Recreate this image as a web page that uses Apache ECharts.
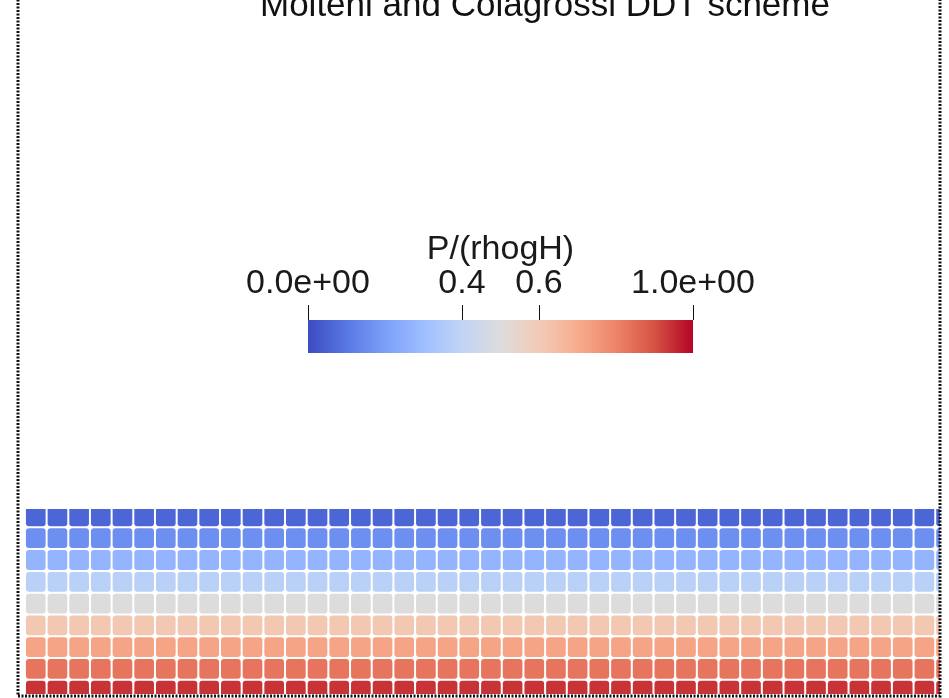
<!DOCTYPE html>
<html>
<head>
<meta charset="utf-8">
<script src="https://cdn.jsdelivr.net/npm/echarts@6/dist/echarts.min.js"></script>
<style>
html,body{margin:0;padding:0;background:#fff;}
#chart{width:949px;height:698px;}
</style>
</head>
<body>
<div id="chart"></div>
<script>
// ---- data ----
const titleText = 'Molteni and Colagrossi DDT scheme';
const colorbarTitle = 'P/(rhogH)';
const colorbarRange = [0, 1];
const tickValues = [0, 0.4, 0.6, 1];
const tickLabels = ['0.0e+00', '0.4', '0.6', '1.0e+00'];
// particle columns (43 across the tank) and rows (9, top = free surface)
const columnIndex = [0,1,2,3,4,5,6,7,8,9,10,11,12,13,14,15,16,17,18,19,20,21,22,23,24,25,26,27,28,29,30,31,32,33,34,35,36,37,38,39,40,41,42];
const rowIndex = [0,1,2,3,4,5,6,7,8];
// non-dimensional pressure read per row (top to bottom)
const rowPressure = [0.06, 0.16, 0.27, 0.38, 0.50, 0.61, 0.72, 0.83, 0.94];
// cool-to-warm colormap
const coolWarm = ['#3b4cc0','#5977e3','#7b9ff9','#9ebeff','#c0d4f5','#dddcdc','#f2cbb7','#f7ac8e','#ee8468','#d65244','#b40426'];

const particles = [];
rowIndex.forEach(function (r) {
  columnIndex.forEach(function (c) {
    particles.push([c, r, rowPressure[r]]);
  });
});

const chart = echarts.init(document.getElementById('chart'), null, {renderer: 'canvas'});
const font = 'Liberation Sans, Arial, sans-serif';

chart.setOption({
  animation: false,
  backgroundColor: '#ffffff',
  title: {
    text: titleText,
    left: 255,
    top: -16,
    textStyle: {fontFamily: font, fontSize: 35, fontWeight: 'normal', color: '#111'}
  },
  visualMap: {
    show: false,
    type: 'continuous',
    min: colorbarRange[0],
    max: colorbarRange[1],
    dimension: 2,
    seriesIndex: 0,
    inRange: {color: coolWarm}
  },
  grid: [
    {left: 18, top: 509, width: 922, height: 185, containLabel: false},
    {left: 308, top: 320, width: 385, height: 33, containLabel: false}
  ],
  xAxis: [
    {gridIndex: 0, type: 'value', min: -0.32, max: 42.22, show: false},
    {
      gridIndex: 1, type: 'value', min: colorbarRange[0], max: colorbarRange[1], position: 'top',
      name: colorbarTitle, nameLocation: 'middle', nameGap: 53, nameMoveOverlap: false,
      nameTextStyle: {fontFamily: font, fontSize: 34, color: '#1a1a1a'},
      axisLine: {show: false},
      splitLine: {show: false},
      axisTick: {show: true, customValues: tickValues, length: 15, inside: false, lineStyle: {color: '#111', width: 1}},
      axisLabel: {
        show: true, customValues: tickValues, margin: 19,
        fontFamily: font, fontSize: 34, color: '#1a1a1a',
        formatter: function (v) { return tickLabels[tickValues.indexOf(v)]; }
      }
    }
  ],
  yAxis: [
    {gridIndex: 0, type: 'value', min: 0.16, max: 8.65, inverse: true, show: false},
    {gridIndex: 1, type: 'category', data: [colorbarTitle], show: false}
  ],
  graphic: [
    {
      type: 'rect', silent: true, z: 100,
      shape: {x: 18, y: -10, width: 922, height: 706},
      style: {fill: 'none', stroke: '#111', lineWidth: 3, lineDash: [2, 1.5]}
    }
  ],
  series: [
    {
      type: 'custom',
      xAxisIndex: 0, yAxisIndex: 0,
      clip: true,
      data: particles,
      encode: {x: 0, y: 1},
      renderItem: function (params, api) {
        const c = api.value(0), r = api.value(1);
        const p0 = api.coord([c, r]);
        const p1 = api.coord([c + 1, r + 1]);
        const g = 1;
        return {
          type: 'rect',
          shape: {x: p0[0] + g, y: p0[1] + g, width: p1[0] - p0[0] - 2 * g, height: p1[1] - p0[1] - 2 * g, r: 3},
          style: {fill: api.visual('color')}
        };
      }
    },
    {
      type: 'bar',
      xAxisIndex: 1, yAxisIndex: 1,
      data: [colorbarRange[1]],
      barWidth: '100%',
      silent: true,
      itemStyle: {
        color: new echarts.graphic.LinearGradient(0, 0, 1, 0,
          coolWarm.map(function (col, i) { return {offset: i / (coolWarm.length - 1), color: col}; }))
      }
    }
  ]
});
</script>
</body>
</html>
